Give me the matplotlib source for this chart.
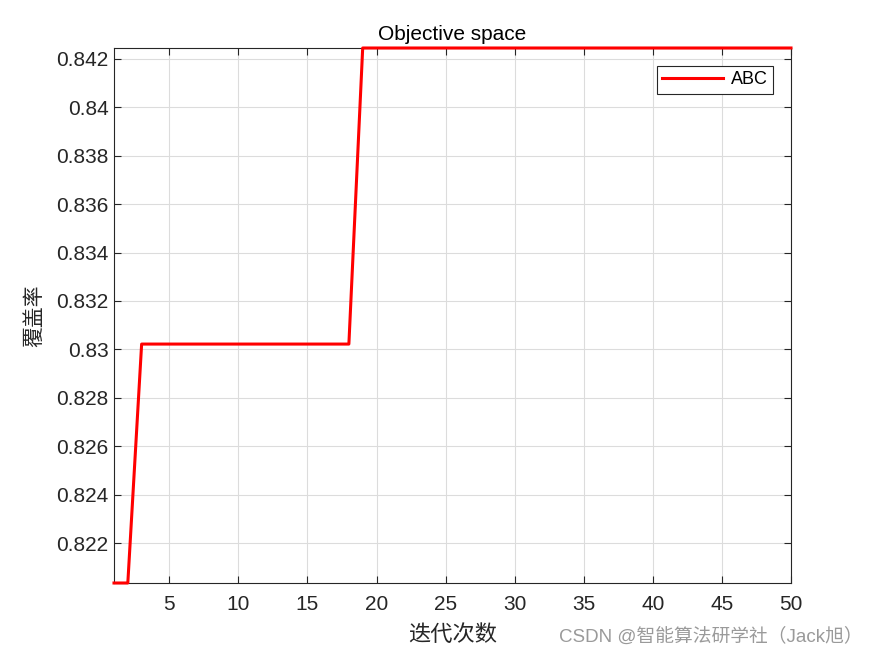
import numpy as np
import matplotlib.pyplot as plt

plt.rcParams['font.family'] = ['Liberation Sans', 'Noto Sans CJK SC']

# best coverage per iteration
iters = np.arange(1, 51)
coverage = [0.82035] * 2 + [0.83022] * 16 + [0.84245] * 32
xticks = [5, 10, 15, 20, 25, 30, 35, 40, 45, 50]
yticks = [0.822, 0.824, 0.826, 0.828, 0.83, 0.832, 0.834, 0.836, 0.838, 0.84, 0.842]
yticklabels = ["0.822", "0.824", "0.826", "0.828", "0.83", "0.832", "0.834",
               "0.836", "0.838", "0.84", "0.842"]

fig = plt.figure(figsize=(8.75, 6.56), dpi=100)
ax = fig.add_axes([114/875, 1-583/656, (791-114)/875, (583-48)/656])

ax.plot(iters, coverage, color="red", lw=2.2, label="ABC", clip_on=False, zorder=5)
ax.set_xlim(1, 50)
ax.set_ylim(min(coverage), max(coverage))
ax.set_xticks(xticks)
ax.set_yticks(yticks)
ax.set_yticklabels(yticklabels)
ax.grid(True, color="#dcdcdc", lw=0.8)
ax.tick_params(direction="in", top=True, right=True, labelsize=15, colors="#262626",
               length=5)
ax.tick_params(axis="x", pad=9)
ax.tick_params(axis="y", pad=4)
for s in ax.spines.values():
    s.set_color("#262626")
    s.set_linewidth(0.8)

ax.set_title("Objective space", fontsize=15, pad=6)
ax.set_xlabel("迭代次数", fontsize=16, family=["Noto Sans CJK SC"], color="#262626", labelpad=6)
ax.set_ylabel("覆盖率", fontsize=15, family=["Noto Sans CJK SC"], color="#262626", labelpad=8)

leg = ax.legend(loc="upper right", fontsize=13, fancybox=False, framealpha=1,
                edgecolor="#262626", handlelength=3.4, borderaxespad=1.0,
                borderpad=0.3, handletextpad=0.4)
leg.get_frame().set_linewidth(0.8)

fig.text(0.986, 0.03, "CSDN @智能算法研学社（Jack旭）", ha="right", va="center",
         fontsize=13.5, color="#9a9a9a", family=["Liberation Sans", "Noto Sans CJK SC"])

fig.savefig("out.png", dpi=100)
